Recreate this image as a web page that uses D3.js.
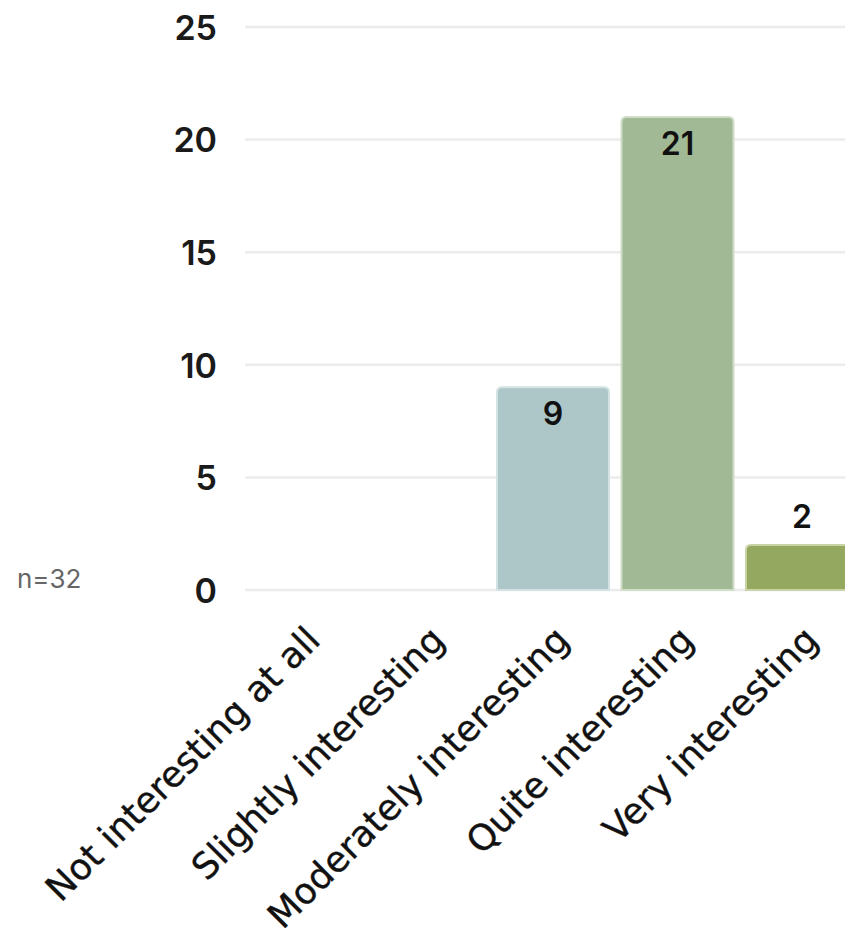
<!DOCTYPE html>
<html>
<head>
<meta charset="utf-8">
<script src="https://cdn.jsdelivr.net/npm/d3@7"></script>
<style>
  html, body { margin: 0; padding: 0; background: #ffffff; overflow: hidden; }
  svg { display: block; font-family: Inter, "Noto Sans", sans-serif; }
</style>
</head>
<body>
<svg id="chart" width="845" height="945"></svg>
<script>
// Survey responses: how interesting respondents found the topic
const categories = [
  "Not interesting at all",
  "Slightly interesting",
  "Moderately interesting",
  "Quite interesting",
  "Very interesting"
];
const counts = [0, 0, 9, 21, 2];
const barColors = ["#b9c9cf", "#b3c6c0", "#adc7c8", "#a1b995", "#94a85f"];
const barEdges  = ["#d5e0e3", "#d2ddda", "#d3e2e2", "#d0dec9", "#c9d4a6"];
const yTicks = [0, 5, 10, 15, 20, 25];
const sampleNote = "n=32";

const svg = d3.select("#chart");

const x = d3.scaleBand()
  .domain(categories)
  .range([241.75, 864.25])
  .paddingInner(0.1)
  .paddingOuter(0.05);

const y = d3.scaleLinear()
  .domain([0, 25])
  .range([590, 27]);

// horizontal gridlines
svg.append("g")
  .selectAll("line")
  .data(yTicks)
  .join("line")
  .attr("x1", 245)
  .attr("x2", 870)
  .attr("y1", d => y(d))
  .attr("y2", d => y(d))
  .attr("stroke", "#ececec")
  .attr("stroke-width", 2.5);

// y axis tick labels
const yAxis = d3.axisLeft(y).tickValues(yTicks).tickSize(0).tickPadding(0);
const yg = svg.append("g")
  .attr("transform", "translate(217,0)")
  .call(yAxis);
yg.select(".domain").remove();
yg.selectAll("text")
  .attr("font-family", "Inter, 'Noto Sans', sans-serif")
  .attr("font-size", 34)
  .attr("font-weight", 600)
  .attr("fill", "#1a1a1a")
  .attr("dy", "0.36em");

// bars with rounded top corners
const r = 5;
function barPath(x0, w, yTop, yBase) {
  const h = yBase - yTop;
  if (h <= 0) return "";
  const rr = Math.min(r, h, w / 2);
  return `M${x0},${yBase}V${yTop + rr}Q${x0},${yTop} ${x0 + rr},${yTop}` +
         `H${x0 + w - rr}Q${x0 + w},${yTop} ${x0 + w},${yTop + rr}V${yBase}Z`;
}

const data = categories.map((c, i) => ({ c, v: counts[i], i }));

svg.append("g")
  .selectAll("path")
  .data(data.filter(d => d.v > 0))
  .join("path")
  .attr("d", d => barPath(x(d.c), x.bandwidth(), y(d.v), y(0)))
  .attr("fill", d => barColors[d.i])
  .attr("stroke", d => barEdges[d.i])
  .attr("stroke-width", 2);

// value labels: inside the bar top when tall enough, otherwise above
svg.append("g")
  .selectAll("text")
  .data(data.filter(d => d.v > 0))
  .join("text")
  .attr("x", d => x(d.c) + x.bandwidth() / 2)
  .attr("y", d => d.v >= 5 ? y(d.v) + 26 : y(d.v) - 28)
  .attr("dy", "0.36em")
  .attr("text-anchor", "middle")
  .attr("font-size", 32)
  .attr("font-weight", 600)
  .attr("fill", "#111")
  .text(d => d.v);

// rotated category labels
svg.append("g")
  .selectAll("text")
  .data(categories)
  .join("text")
  .attr("transform", d => `translate(${x(d) + x.bandwidth() / 2 - 1},${623}) rotate(-45)`)
  .attr("text-anchor", "end")
  .attr("dy", "0.75em")
  .attr("font-family", "'DejaVu Sans', sans-serif")
  .attr("font-size", 36)
  .attr("fill", "#111")
  .attr("stroke", "#111")
  .attr("stroke-width", 0.4)
  .text(d => d);

// sample size note
svg.append("text")
  .attr("x", 17)
  .attr("y", 588)
  .attr("font-size", 26)
  .attr("fill", "#666")
  .text(sampleNote);
</script>
</body>
</html>
